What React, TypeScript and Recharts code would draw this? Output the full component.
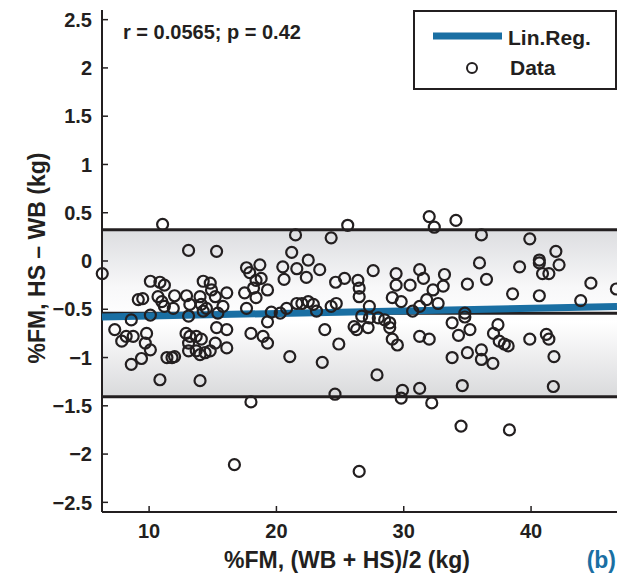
import {
  ScatterChart,
  Scatter,
  XAxis,
  YAxis,
  ReferenceArea,
  ReferenceLine,
  Legend,
} from 'recharts';

const INK = '#231f20';
const BLUE = '#1a6fa3';
const FONT = '"Liberation Sans", Arial, Helvetica, sans-serif';

// axes
const xTicks = [10, 20, 30, 40];
const yTicks = [-2.5, -2, -1.5, -1, -0.5, 0, 0.5, 1, 1.5, 2, 2.5];
const xDomain = [6.3, 46.75];
const yDomain = [-2.6, 2.6];

// Bland-Altman stats
const meanDiff = -0.54;
const upperLoA = 0.325;
const lowerLoA = -1.405;
const regIntercept = -0.597;
const regSlope = 0.0027;

// [mean %FM, difference]
const pointsBelow20: [number, number][] = [
  [11.06, 0.38], [6.32, -0.13], [13.1, 0.11], [15.3, 0.1], [10.1, -0.21], [10.85, -0.22],
  [11.2, -0.25], [9.15, -0.4], [9.5, -0.39], [10.7, -0.37], [11.0, -0.42], [11.2, -0.47],
  [12.0, -0.36], [11.9, -0.49], [12.94, -0.36], [13.2, -0.45], [14.0, -0.37], [14.25, -0.21],
  [14.8, -0.23], [14.9, -0.3], [15.2, -0.37], [16.1, -0.33], [15.8, -0.47], [14.1, -0.45],
  [14.5, -0.49], [10.1, -0.56], [8.6, -0.61], [13.1, -0.57], [14.25, -0.52], [15.4, -0.54],
  [17.65, -0.49], [17.65, -0.07], [17.9, -0.12], [18.7, -0.04], [18.4, -0.2], [18.8, -0.18],
  [17.5, -0.33], [18.2, -0.28], [18.4, -0.38], [19.3, -0.63], [7.3, -0.71], [7.85, -0.83],
  [8.2, -0.78], [8.75, -0.78], [9.8, -0.75], [9.7, -0.85], [10.1, -0.92], [9.4, -1.01],
  [8.6, -1.07], [11.4, -1.0], [11.8, -1.0], [12.0, -0.99], [10.85, -1.23], [12.9, -0.75],
  [13.2, -0.78], [13.1, -0.85], [13.7, -0.78], [14.1, -0.81], [13.1, -0.93], [13.7, -0.93],
  [14.0, -0.97], [14.4, -0.95], [14.8, -0.93], [15.2, -0.85], [15.3, -0.69], [16.1, -0.71],
  [16.1, -0.9], [14.0, -1.24], [18.0, -0.75], [18.95, -0.78], [19.3, -0.85], [18.0, -1.46],
];

const points20to32: [number, number][] = [
  [25.6, 0.37], [21.5, 0.27], [24.3, 0.24], [21.2, 0.09], [20.5, -0.06], [21.6, -0.08],
  [22.5, 0.01], [23.4, -0.09], [22.35, -0.17], [20.6, -0.19], [19.3, -0.3], [24.65, -0.22],
  [25.35, -0.18], [26.4, -0.2], [26.5, -0.28], [26.5, -0.37], [27.6, -0.1], [29.4, -0.13],
  [29.4, -0.25], [30.5, -0.25], [31.25, -0.09], [31.55, -0.18], [32.3, -0.3], [29.1, -0.38],
  [29.8, -0.42], [31.8, -0.4], [21.6, -0.44], [22.0, -0.44], [22.5, -0.42], [22.9, -0.45],
  [20.8, -0.49], [20.3, -0.54], [19.6, -0.53], [23.15, -0.52], [24.3, -0.47], [24.7, -0.44],
  [27.3, -0.47], [26.7, -0.57], [27.3, -0.59], [28.0, -0.59], [28.5, -0.61], [28.9, -0.64],
  [26.1, -0.68], [26.3, -0.71], [27.2, -0.69], [28.9, -0.69], [30.7, -0.52], [31.25, -0.47],
  [23.8, -0.71], [24.9, -0.86], [29.1, -0.81], [29.5, -0.87], [31.25, -0.78], [32.0, -0.81],
  [21.05, -0.99], [23.6, -1.05], [27.9, -1.18], [24.6, -1.38], [29.9, -1.34], [29.8, -1.42],
  [31.25, -1.32], [32.2, -1.47], [32.0, 0.46], [32.4, 0.35],
];

const pointsAbove32: [number, number][] = [
  [34.1, 0.42], [36.1, 0.27], [39.9, 0.23], [41.95, 0.1], [35.95, -0.02], [39.1, -0.06],
  [40.65, 0.01], [40.65, -0.02], [42.2, -0.04], [40.9, -0.13], [41.4, -0.13], [33.2, -0.14],
  [33.1, -0.26], [35.0, -0.24], [36.5, -0.19], [38.55, -0.34], [40.65, -0.36], [44.7, -0.23],
  [46.7, -0.29], [43.9, -0.41], [32.7, -0.44], [34.8, -0.54], [34.8, -0.58], [33.8, -0.64],
  [34.3, -0.77], [35.2, -0.71], [37.4, -0.66], [37.05, -0.75], [37.5, -0.83], [38.2, -0.88],
  [37.9, -0.86], [39.9, -0.81], [41.2, -0.76], [41.4, -0.81], [41.8, -0.99], [33.8, -1.0],
  [35.0, -0.95], [36.1, -0.92], [36.1, -1.02], [37.0, -1.06], [34.6, -1.29], [41.75, -1.3],
];

const outliers: [number, number][] = [
  [34.5, -1.71], [38.3, -1.75], [16.7, -2.11], [26.5, -2.18],
];

const scatterData = [...pointsBelow20, ...points20to32, ...pointsAbove32, ...outliers].map(
  ([x, y]) => ({ x, y })
);

const regData = xDomain.map((x) => ({ x, y: regIntercept + regSlope * x }));

const fmt = (v: number) => (v < 0 ? '\u2212' + String(-v) : String(v));

const textStyle = { fontFamily: FONT, fontWeight: 'bold' as const, fill: INK };

const BottomTick = ({ x, y, payload }: any) => (
  <g>
    <line x1={x} x2={x} y1={y} y2={y - 6} stroke={INK} strokeWidth={1.5} />
    <text x={x} y={y + 26} textAnchor="middle" fontSize={20} {...textStyle}>
      {fmt(payload.value)}
    </text>
  </g>
);

const TopTick = ({ x, y }: any) => (
  <line x1={x} x2={x} y1={y} y2={y + 6} stroke={INK} strokeWidth={1.5} />
);

const LeftTick = ({ x, y, payload }: any) => (
  <g>
    <line x1={x} x2={x + 6} y1={y} y2={y} stroke={INK} strokeWidth={1.5} />
    <text x={x - 10} y={y} dy="0.36em" textAnchor="end" fontSize={20} {...textStyle}>
      {fmt(payload.value)}
    </text>
  </g>
);

const RightTick = ({ x, y }: any) => (
  <line x1={x} x2={x - 6} y1={y} y2={y} stroke={INK} strokeWidth={1.5} />
);

const Ring = (props: any) => (
  <circle cx={props.cx} cy={props.cy} r={5.5} fill="none" stroke={INK} strokeWidth={2.2} />
);

const LegendBox = () => (
  <svg width={204} height={80} style={{ display: 'block' }}>
    <rect x={1} y={1} width={202} height={78} fill="#fff" stroke={INK} strokeWidth={2} />
    <line x1={20} x2={89} y1={26} y2={26} stroke={BLUE} strokeWidth={7} />
    <text x={95} y={35} fontSize={21} {...textStyle}>Lin.Reg.</text>
    <circle cx={59} cy={58} r={5} fill="none" stroke={INK} strokeWidth={2} />
    <text x={97} y={65} fontSize={21} {...textStyle}>Data</text>
  </svg>
);

export default function App() {
  return (
    <div style={{ position: 'relative', width: 609, height: 565 }}>
      <ScatterChart width={609} height={565} margin={{ top: 2, right: 0, bottom: 0, left: 0 }}>
        <defs>
          <linearGradient id="loaBand" x1="0" y1="0" x2="0" y2="1">
            <stop offset="0%" stopColor="#dcdde0" />
            <stop offset="35%" stopColor="#f8f8f9" />
            <stop offset="55%" stopColor="#ffffff" />
            <stop offset="100%" stopColor="#d9dadc" />
          </linearGradient>
        </defs>
        <XAxis
          type="number"
          dataKey="x"
          domain={xDomain}
          ticks={xTicks}
          height={61}
          tickLine={false}
          tickSize={0}
          tickMargin={0}
          tick={<BottomTick />}
          axisLine={{ stroke: INK, strokeWidth: 2 }}
        />
        <XAxis
          xAxisId="top"
          orientation="top"
          type="number"
          dataKey="x"
          domain={xDomain}
          ticks={xTicks}
          height={0}
          tickLine={false}
          tickSize={0}
          tickMargin={0}
          tick={<TopTick />}
          axisLine={{ stroke: INK, strokeWidth: 2 }}
        />
        <YAxis
          type="number"
          dataKey="y"
          domain={yDomain}
          ticks={yTicks}
          width={94}
          tickLine={false}
          tickSize={0}
          tickMargin={0}
          tick={<LeftTick />}
          axisLine={{ stroke: INK, strokeWidth: 2 }}
        />
        <YAxis
          yAxisId="right"
          orientation="right"
          type="number"
          dataKey="y"
          domain={yDomain}
          ticks={yTicks}
          width={0}
          tickLine={false}
          tickSize={0}
          tickMargin={0}
          tick={<RightTick />}
          axisLine={{ stroke: INK, strokeWidth: 2 }}
        />
        <ReferenceArea y1={lowerLoA} y2={upperLoA} fill="url(#loaBand)" fillOpacity={1} stroke="none" />
        <ReferenceLine y={upperLoA} stroke={INK} strokeWidth={3} />
        <ReferenceLine y={lowerLoA} stroke={INK} strokeWidth={3} />
        <Scatter
          data={regData}
          line={{ stroke: BLUE, strokeWidth: 7 }}
          shape={() => <g />}
          isAnimationActive={false}
        />
        <ReferenceLine y={meanDiff} stroke={INK} strokeWidth={3} />
        <Scatter data={scatterData} shape={<Ring />} isAnimationActive={false} />
        <Legend
          layout="horizontal"
          verticalAlign="middle"
          align="center"
          width={204}
          height={80}
          wrapperStyle={{ left: 405, top: 2, width: 204, height: 80 }}
          content={() => <LegendBox />}
        />
        <text x={115} y={31} fontSize={20} {...textStyle}>
          r = 0.0565; p = 0.42
        </text>
        <text x={339} y={560} textAnchor="middle" fontSize={23} {...textStyle}>
          %FM, (WB + HS)/2 (kg)
        </text>
        <text x={608} y={560} textAnchor="end" fontSize={23} fontFamily={FONT} fontWeight="bold" fill={BLUE}>
          (b)
        </text>
        <text
          x={29}
          y={250}
          transform="rotate(-90 29 250)"
          textAnchor="middle"
          dy="0.35em"
          fontSize={23}
          {...textStyle}
        >
          %FM, HS – WB (kg)
        </text>
      </ScatterChart>
    </div>
  );
}
